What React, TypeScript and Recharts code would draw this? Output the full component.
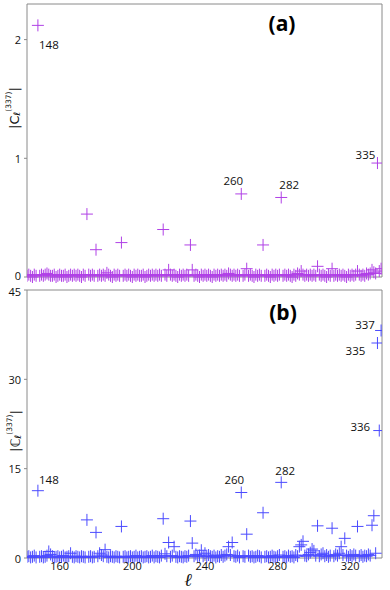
import React from 'react';
import { ScatterChart, Scatter, XAxis, YAxis, ReferenceArea } from 'recharts';

const ells = [
  142, 143, 144, 145, 146, 147, 148, 149, 150, 151, 152, 153, 154, 155,
  156, 157, 158, 159, 160, 161, 162, 163, 164, 165, 166, 167, 168, 169,
  170, 171, 172, 173, 174, 175, 176, 177, 178, 179, 180, 181, 182, 183,
  184, 185, 186, 187, 188, 189, 190, 191, 192, 193, 194, 195, 196, 197,
  198, 199, 200, 201, 202, 203, 204, 205, 206, 207, 208, 209, 210, 211,
  212, 213, 214, 215, 216, 217, 218, 219, 220, 221, 222, 223, 224, 225,
  226, 227, 228, 229, 230, 231, 232, 233, 234, 235, 236, 237, 238, 239,
  240, 241, 242, 243, 244, 245, 246, 247, 248, 249, 250, 251, 252, 253,
  254, 255, 256, 257, 258, 259, 260, 261, 262, 263, 264, 265, 266, 267,
  268, 269, 270, 271, 272, 273, 274, 275, 276, 277, 278, 279, 280, 281,
  282, 283, 284, 285, 286, 287, 288, 289, 290, 291, 292, 293, 294, 295,
  296, 297, 298, 299, 300, 301, 302, 303, 304, 305, 306, 307, 308, 309,
  310, 311, 312, 313, 314, 315, 316, 317, 318, 319, 320, 321, 322, 323,
  324, 325, 326, 327, 328, 329, 330, 331, 332, 333, 334, 335, 336, 337,
];

const coefA = [
  0.01, 0.02, 0.01, 0.0, 0.02, 0.01, 2.12, 0.01, 0.02, 0.01, 0.02, 0.03, 0.02, 0.01,
  0.01, 0.02, 0.0, 0.01, 0.02, 0.01, 0.01, 0.02, 0.0, 0.01, 0.02, 0.01, 0.02, 0.01,
  0.02, 0.01, 0.0, 0.02, 0.01, 0.53, 0.02, 0.01, 0.02, 0.01, 0.23, 0.01, 0.02, 0.01,
  0.02, 0.01, 0.035, 0.02, 0.01, 0.0, 0.02, 0.01, 0.02, 0.01, 0.29, 0.01, 0.02, 0.01,
  0.02, 0.01, 0.0, 0.02, 0.01, 0.02, 0.01, 0.01, 0.02, 0.0, 0.01, 0.02, 0.01, 0.02,
  0.01, 0.02, 0.01, 0.02, 0.01, 0.40, 0.02, 0.01, 0.06, 0.02, 0.01, 0.02, 0.01, 0.0,
  0.02, 0.01, 0.02, 0.01, 0.02, 0.01, 0.27, 0.06, 0.01, 0.02, 0.01, 0.0, 0.02, 0.01,
  0.02, 0.01, 0.02, 0.01, 0.0, 0.02, 0.01, 0.02, 0.01, 0.02, 0.01, 0.02, 0.01, 0.03,
  0.02, 0.01, 0.02, 0.01, 0.02, 0.01, 0.70, 0.01, 0.02, 0.07, 0.01, 0.02, 0.01, 0.0,
  0.02, 0.01, 0.02, 0.01, 0.27, 0.01, 0.02, 0.01, 0.0, 0.02, 0.01, 0.02, 0.01, 0.02,
  0.67, 0.01, 0.02, 0.01, 0.02, 0.01, 0.0, 0.02, 0.01, 0.03, 0.02, 0.05, 0.02, 0.01,
  0.02, 0.01, 0.02, 0.01, 0.02, 0.01, 0.09, 0.02, 0.01, 0.02, 0.01, 0.0, 0.02, 0.01,
  0.07, 0.01, 0.02, 0.01, 0.02, 0.01, 0.02, 0.01, 0.0, 0.02, 0.01, 0.02, 0.01, 0.02,
  0.05, 0.02, 0.01, 0.02, 0.01, 0.03, 0.02, 0.03, 0.06, 0.04, 0.03, 0.96, 0.05, 0.07,
];

const coefB = [
  0.2, 0.3, 0.1, 0.2, 0.4, 0.1, 11.3, 0.2, 0.3, 0.1, 0.2, 0.4, 1.1, 0.6,
  0.3, 0.1, 0.2, 0.3, 0.1, 0.2, 0.4, 0.1, 0.2, 0.3, 0.8, 0.2, 0.1, 0.3,
  0.2, 0.1, 0.3, 0.2, 0.1, 6.4, 0.2, 0.3, 0.1, 0.2, 4.3, 0.3, 0.8, 0.5,
  0.3, 1.4, 0.2, 0.1, 0.3, 0.2, 0.1, 0.3, 0.2, 0.1, 5.3, 0.2, 0.3, 0.1,
  0.2, 0.3, 0.1, 0.2, 0.4, 0.1, 0.2, 0.3, 0.1, 0.2, 0.3, 0.1, 0.2, 0.4,
  0.1, 0.3, 0.2, 0.1, 0.4, 6.6, 0.7, 0.3, 2.6, 0.2, 0.4, 1.9, 0.2, 0.1,
  0.3, 0.2, 0.1, 0.3, 0.2, 0.4, 6.2, 2.5, 0.3, 0.6, 0.2, 0.4, 1.3, 0.3,
  0.8, 0.2, 0.5, 0.3, 0.2, 0.4, 0.1, 0.3, 0.2, 0.5, 0.2, 0.4, 0.6, 1.9,
  0.5, 2.6, 0.3, 0.2, 0.4, 0.1, 11.0, 0.3, 0.2, 4.0, 0.4, 0.2, 0.3, 0.1,
  0.2, 0.4, 0.3, 0.1, 7.6, 0.2, 0.3, 0.1, 0.2, 0.4, 0.2, 0.1, 0.3, 0.5,
  12.7, 0.2, 0.3, 0.1, 0.4, 0.2, 0.3, 0.1, 0.5, 0.3, 1.9, 2.2, 2.8, 0.4,
  0.3, 0.6, 0.9, 1.5, 1.2, 0.4, 5.4, 0.3, 0.6, 0.8, 0.3, 0.5, 0.2, 0.4,
  5.0, 0.3, 0.6, 0.4, 0.8, 1.9, 0.5, 3.3, 0.4, 0.2, 0.5, 0.3, 0.6, 0.4,
  5.3, 0.3, 0.5, 0.2, 0.4, 0.3, 0.6, 0.4, 5.5, 7.1, 0.8, 36.1, 21.4, 38.2,
];

const xTicks = [160, 200, 240, 280, 320];
const yTicksA = [0, 1, 2];
const yTicksB = [0, 15, 30, 45];
const labelledA = [148, 260, 282, 335];
const labelledB = [148, 260, 282, 337, 335, 336];

const offsetsA: Record<number, [number, number]> = {
  148: [11, 19], 260: [-8, -13], 282: [8, -13], 335: [-12, -9],
};
const offsetsB: Record<number, [number, number]> = {
  148: [11, -11], 260: [-7, -13], 282: [4, -12], 337: [-16, -6], 335: [-22, 7], 336: [-19, -4],
};

const dataA = ells.map((l, i) => ({ l, v: coefA[i] }));
const dataB = ells.map((l, i) => ({ l, v: coefB[i] }));
const annA = dataA.filter((d) => labelledA.includes(d.l));
const annB = dataB.filter((d) => labelledB.includes(d.l));

const COLOR_A = '#b040e6';
const COLOR_B = '#4b4bff';
const FRAME = '#8a8a8a';
const FONT = "'Open Sans', 'Liberation Sans', sans-serif";
const X_DOMAIN: [number, number] = [142, 337.5];

const plus = (color: string) => (p: any) => {
  const { cx, cy } = p;
  if (cx == null || cy == null) return <g />;
  return (
    <path
      d={`M${cx - 6},${cy}H${cx + 6}M${cx},${cy - 6}V${cy + 6}`}
      stroke={color}
      strokeWidth={1}
      fill="none"
    />
  );
};

const tag = (offsets: Record<number, [number, number]>) => (p: any) => {
  const { cx, cy, payload } = p;
  if (cx == null || cy == null) return <g />;
  const [dx, dy] = offsets[payload.l] || [0, 0];
  return (
    <text
      x={cx + dx}
      y={cy + dy}
      textAnchor="middle"
      dominantBaseline="central"
      fontSize={11.5}
      fontFamily={FONT}
      fill="#111"
    >
      {payload.l}
    </text>
  );
};

const YLabel = ({ x0, y0, sym }: any) => (
  <text
    transform={`translate(${x0},${y0}) rotate(-90)`}
    textAnchor="middle"
    fontFamily="'DejaVu Sans', sans-serif"
    fontSize={13}
    fill="#111"
    dominantBaseline="central"
  >
    {'|' + sym}
    <tspan fontSize={9} dy={3} fontStyle="italic">ℓ</tspan>
    <tspan fontSize={7.5} dy={-9}>(337)</tspan>
    <tspan fontSize={13} dy={6}>|</tspan>
  </text>
);

const XLabel = ({ x0, y0 }: any) => (
  <text
    transform={`translate(${x0},${y0})`}
    textAnchor="middle"
    dominantBaseline="central"
    fontSize={18}
    fontStyle="italic"
    fontFamily="'DejaVu Serif', serif"
    fill="#111"
  >
    ℓ
  </text>
);

// y tick with a small vertical nudge for the values where the two panels meet
const yTick = (nudge: Record<number, number>) => (p: any) => {
  const { x, y, payload } = p;
  const shift = nudge[payload.value] || 0;
  return (
    <text
      x={x}
      y={y + shift}
      textAnchor="end"
      dominantBaseline="central"
      fontSize={11}
      fontFamily={FONT}
      fill="#111"
    >
      {payload.value}
    </text>
  );
};

const tickStyle = { fontSize: 11, fontFamily: FONT, fill: '#111' };

export default function App() {
  return (
    <div style={{ position: 'absolute', left: 0, top: 0, width: 390, height: 590, background: '#fff' }}>
      <div style={{ position: 'absolute', left: 0, top: 0 }}>
        <ScatterChart width={390} height={295} margin={{ top: 4, right: 8, bottom: 18, left: 0 }}>
          <XAxis type="number" dataKey="l" domain={X_DOMAIN} hide allowDataOverflow />
          <YAxis
            type="number"
            dataKey="v"
            domain={[0, 2.3]}
            ticks={yTicksA}
            width={27}
            tickSize={3}
            tickMargin={3}
            axisLine={false}
            tickLine={{ stroke: FRAME }}
            tick={yTick({ 0: -1.5 })}
            label={<YLabel x0={14} y0={108} sym="C" />}
          />
          <ReferenceArea x1={142} x2={337.5} y1={0} y2={2.3} fill="none" stroke={FRAME} strokeWidth={1} />
          <Scatter data={dataA} shape={plus(COLOR_A)} isAnimationActive={false} />
          <Scatter data={annA} shape={tag(offsetsA)} isAnimationActive={false} />
          <text x={282} y={23} textAnchor="middle" dominantBaseline="central" fontSize={21} fontWeight="bold" fontFamily={FONT} fill="#000">(a)</text>
        </ScatterChart>
      </div>
      <div style={{ position: 'absolute', left: 0, top: 280 }}>
        <ScatterChart width={390} height={310} margin={{ top: 10, right: 8, bottom: 0, left: 0 }}>
          <XAxis
            type="number"
            dataKey="l"
            domain={X_DOMAIN}
            ticks={xTicks}
            height={32}
            tickSize={3}
            tickMargin={1}
            axisLine={false}
            tickLine={{ stroke: FRAME }}
            tick={tickStyle}
            allowDataOverflow
            label={<XLabel x0={188} y0={299} />}
          />
          <YAxis
            type="number"
            dataKey="v"
            domain={[0, 45]}
            ticks={yTicksB}
            width={27}
            tickSize={3}
            tickMargin={3}
            axisLine={false}
            tickLine={{ stroke: FRAME }}
            tick={yTick({ 45: 1.5 })}
            label={<YLabel x0={15} y0={151} sym="ℂ" />}
          />
          <ReferenceArea x1={142} x2={337.5} y1={0} y2={45} fill="none" stroke={FRAME} strokeWidth={1} />
          <Scatter data={dataB} shape={plus(COLOR_B)} isAnimationActive={false} />
          <Scatter data={annB} shape={tag(offsetsB)} isAnimationActive={false} />
          <text x={283} y={32} textAnchor="middle" dominantBaseline="central" fontSize={21} fontWeight="bold" fontFamily={FONT} fill="#000">(b)</text>
        </ScatterChart>
      </div>
    </div>
  );
}
